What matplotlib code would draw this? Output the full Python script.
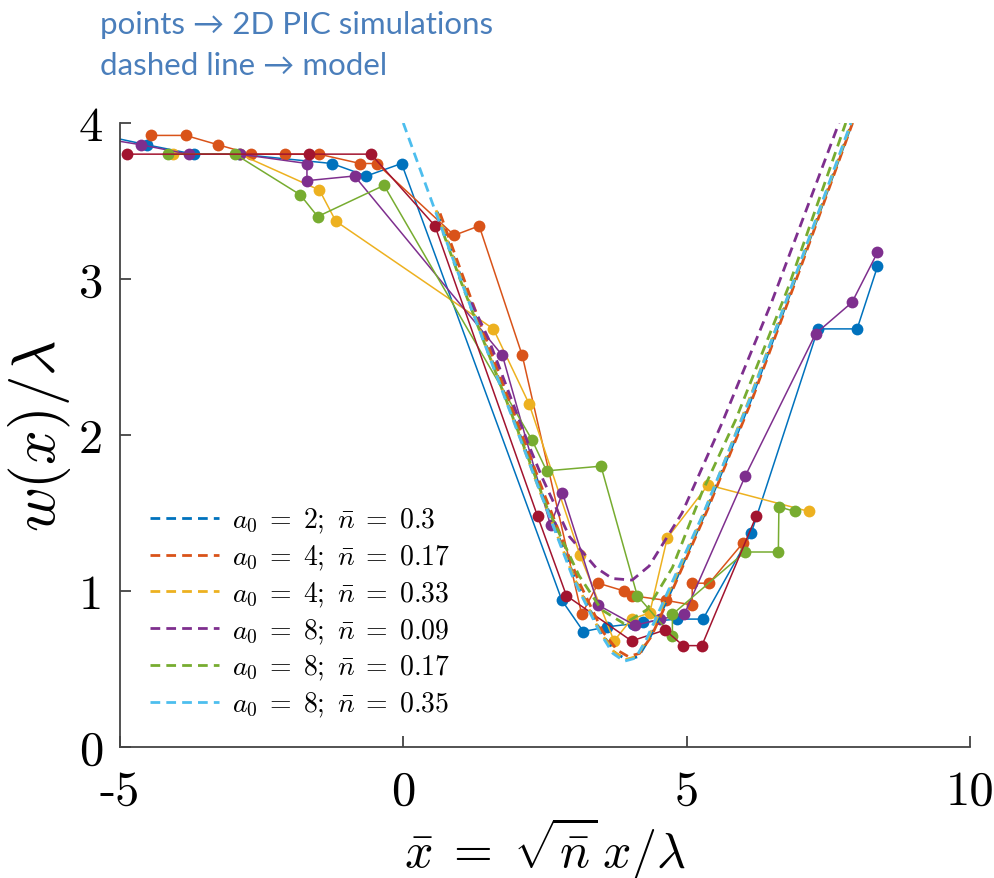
import matplotlib
matplotlib.use("Agg")
import matplotlib.pyplot as plt

plt.rcParams['mathtext.fontset'] = 'cm'

# MATLAB default colour order
c_blue = '#0072BD'
c_orange = '#D95319'
c_yellow = '#EDB120'
c_purple = '#7E2F8E'
c_green = '#77AC30'
c_cyan = '#4DBEEE'
c_red = '#A2142F'

labels = [r'$a_0\;=\;2;\ \bar{n}\;=\;0.3$',
          r'$a_0\;=\;4;\ \bar{n}\;=\;0.17$',
          r'$a_0\;=\;4;\ \bar{n}\;=\;0.33$',
          r'$a_0\;=\;8;\ \bar{n}\;=\;0.09$',
          r'$a_0\;=\;8;\ \bar{n}\;=\;0.17$',
          r'$a_0\;=\;8;\ \bar{n}\;=\;0.35$']

# 2D PIC simulation points
pic_blue_x = [-5.3, -4.53, -3.70, -2.90, -1.26, -0.65, -0.03, 2.80, 3.18, 3.59, 4.05, 4.23, 4.84, 5.29, 6.14, 7.32, 8.01, 8.37]
pic_blue_y = [3.92, 3.86, 3.80, 3.80, 3.74, 3.66, 3.74, 0.94, 0.74, 0.77, 0.79, 0.80, 0.82, 0.82, 1.37, 2.68, 2.68, 3.08]

pic_orange_x = [-4.46, -3.84, -3.27, -2.68, -2.08, -1.49, -0.76, -0.47, 0.90, 1.34, 2.10, 3.15, 3.44, 3.90, 4.04, 4.64, 5.10, 5.10, 5.40, 6.00]
pic_orange_y = [3.92, 3.92, 3.86, 3.80, 3.80, 3.80, 3.74, 3.74, 3.28, 3.34, 2.51, 0.85, 1.05, 1.00, 0.97, 0.94, 0.91, 1.05, 1.05, 1.31]

pic_yellow_x = [-4.07, -2.89, -1.48, -1.19, 1.59, 2.22, 3.12, 3.72, 4.03, 4.35, 4.66, 5.38, 7.16]
pic_yellow_y = [3.80, 3.80, 3.57, 3.37, 2.68, 2.20, 1.23, 0.68, 0.82, 0.86, 1.34, 1.68, 1.51]

pic_purple_x = [-5.3, -4.63, -3.79, -2.89, -1.70, -1.70, -0.86, 1.75, 2.60, 2.81, 3.44, 4.09, 4.54, 4.96, 6.04, 7.28, 7.92, 8.37]
pic_purple_y = [3.90, 3.86, 3.80, 3.80, 3.74, 3.63, 3.66, 2.51, 1.42, 1.63, 0.91, 0.78, 0.82, 0.85, 1.74, 2.65, 2.85, 3.17]

pic_green_x = [-4.15, -2.97, -1.82, -1.51, -0.34, 2.27, 2.53, 3.49, 4.13, 4.75, 4.75, 6.03, 6.62, 6.63, 6.91]
pic_green_y = [3.80, 3.80, 3.54, 3.40, 3.60, 1.97, 1.77, 1.80, 0.97, 0.71, 0.85, 1.25, 1.25, 1.54, 1.51]

pic_red_x = [-4.87, -1.66, -0.57, 0.56, 2.37, 2.88, 4.03, 4.62, 4.94, 5.27, 6.23]
pic_red_y = [3.80, 3.80, 3.80, 3.34, 1.48, 0.97, 0.68, 0.75, 0.65, 0.65, 1.48]

# model curves
mod_1_x = [0.60, 1.20, 1.80, 2.45, 3.05, 3.50, 3.75, 3.95, 4.15, 4.35, 4.75, 5.35, 6.15, 7.00, 7.92]
mod_1_y = [3.43, 2.83, 2.25, 1.62, 1.06, 0.73, 0.60, 0.56, 0.58, 0.70, 1.02, 1.52, 2.24, 3.08, 4.00]

mod_2_x = [0.65, 1.25, 1.85, 2.50, 3.10, 3.52, 3.78, 3.97, 4.17, 4.38, 4.78, 5.38, 6.17, 7.02, 7.93]
mod_2_y = [3.42, 2.82, 2.24, 1.61, 1.06, 0.74, 0.62, 0.58, 0.60, 0.71, 1.03, 1.53, 2.24, 3.08, 4.00]

mod_3_x = [0.58, 1.18, 1.78, 2.42, 3.02, 3.47, 3.72, 3.92, 4.12, 4.32, 4.72, 5.32, 6.13, 7.00, 7.91]
mod_3_y = [3.44, 2.84, 2.26, 1.63, 1.08, 0.74, 0.61, 0.56, 0.58, 0.70, 1.02, 1.51, 2.25, 3.09, 4.00]

mod_4_x = [1.20, 1.50, 2.22, 2.46, 2.93, 3.40, 3.69, 4.04, 4.34, 4.92, 5.63, 6.50, 7.69]
mod_4_y = [2.85, 2.62, 1.93, 1.72, 1.35, 1.15, 1.08, 1.07, 1.16, 1.50, 2.08, 2.85, 4.00]

mod_5_x = [0.70, 1.00, 2.00, 2.52, 3.10, 3.50, 3.90, 4.30, 4.75, 5.27, 5.87, 6.80, 7.81]
mod_5_y = [3.30, 3.00, 2.05, 1.55, 1.10, 0.88, 0.79, 0.88, 1.15, 1.63, 2.10, 2.95, 4.00]

mod_6_x = [0.00, 0.55, 1.16, 1.75, 2.40, 3.00, 3.46, 3.70, 3.90, 4.10, 4.29, 4.70, 5.30, 6.14, 7.00, 7.90]
mod_6_y = [4.00, 3.45, 2.85, 2.28, 1.65, 1.08, 0.74, 0.60, 0.55, 0.57, 0.69, 1.02, 1.50, 2.25, 3.10, 4.00]

fig = plt.figure(figsize=(9.94, 8.79), dpi=100)
ax = fig.add_axes([0.1207, 0.149, 0.855, 0.710])

pic_series = [(pic_blue_x, pic_blue_y, c_blue),
              (pic_orange_x, pic_orange_y, c_orange),
              (pic_yellow_x, pic_yellow_y, c_yellow),
              (pic_purple_x, pic_purple_y, c_purple),
              (pic_green_x, pic_green_y, c_green),
              (pic_red_x, pic_red_y, c_red)]
for xs, ys, col in pic_series:
    ax.plot(xs, ys, '-o', color=col, lw=1.1, ms=8.5, mec='none', zorder=2)

mod_series = [(mod_1_x, mod_1_y, c_blue),
              (mod_2_x, mod_2_y, c_orange),
              (mod_3_x, mod_3_y, c_yellow),
              (mod_4_x, mod_4_y, c_purple),
              (mod_5_x, mod_5_y, c_green),
              (mod_6_x, mod_6_y, c_cyan)]
handles = []
for (xs, ys, col), lab in zip(mod_series, labels):
    h, = ax.plot(xs, ys, color=col, lw=2.0, dashes=(3.5, 2.2), label=lab, zorder=3)
    handles.append(h)

ax.set_xlim(-5, 10)
ax.set_ylim(0, 4)
ax.set_xticks([-5, 0, 5, 10])
ax.set_xticklabels(['-5', '0', '5', '10'], fontfamily='cmr10', fontsize=35)
ax.set_yticks([0, 1, 2, 3, 4])
ax.set_yticklabels(['0', '1', '2', '3', '4'], fontfamily='cmr10', fontsize=35)
ax.tick_params(direction='in', length=8, width=1.2, color='#333333')
ax.tick_params(axis='x', pad=16)
ax.tick_params(axis='y', pad=12)
for s in ['top', 'right']:
    ax.spines[s].set_visible(False)
for s in ['left', 'bottom']:
    ax.spines[s].set_color('#444444')
    ax.spines[s].set_linewidth(1.3)

ax.set_xlabel(r'$\bar{x}\;=\;\sqrt{\bar{n}}\,x/\lambda$', fontsize=36)
ax.xaxis.set_label_coords(0.5, -0.16)
ax.xaxis.label.set_verticalalignment('center')
ax.set_ylabel(r'$w(x)/\lambda$', fontsize=44, labelpad=4)

ax.legend(handles=handles, loc='upper left', bbox_to_anchor=(0.022, 0.405),
          frameon=False, fontsize=20, handlelength=2.5, handletextpad=0.45,
          labelspacing=0.26, borderaxespad=0)

fig.text(100 / 994, 1 - 25 / 879, 'points → 2D PIC simulations', color='#4a7ebb',
         fontsize=22.5, family=['Lato', 'DejaVu Sans'], va='center', ha='left')
fig.text(100 / 994, 1 - 66 / 879, 'dashed line → model', color='#4a7ebb',
         fontsize=22.5, family=['Lato', 'DejaVu Sans'], va='center', ha='left')

fig.savefig('out.png', dpi=100)
